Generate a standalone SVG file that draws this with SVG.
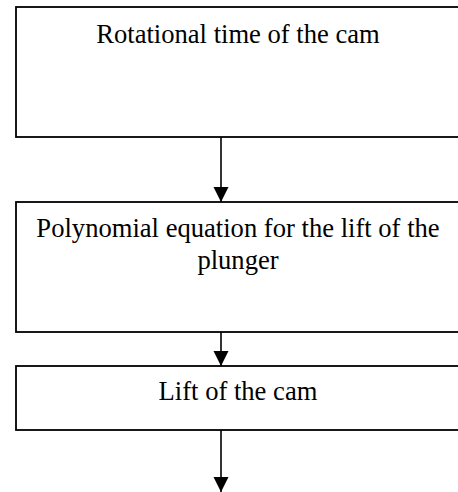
<svg xmlns="http://www.w3.org/2000/svg" width="458" height="492" viewBox="0 0 458 492">
<style>
.box{fill:#fff;stroke:#000;stroke-width:1.8}
.lbl{font-family:"Liberation Serif","Times New Roman",serif;font-size:26.6px;fill:#000;text-anchor:middle}
.conn{stroke:#000;stroke-width:1.6;fill:none}
</style>
<defs>
<marker id="ah" markerUnits="userSpaceOnUse" markerWidth="16" markerHeight="16" viewBox="0 0 16 16" refX="15" refY="8" orient="auto">
<path d="M0,0.5 L15,8 L0,15.5 Z" fill="#000"/>
</marker>
</defs>
<rect width="458" height="492" fill="#fff"/>
<g id="connectors">
<line class="conn" x1="221" y1="137" x2="221" y2="202" marker-end="url(#ah)"/>
<line class="conn" x1="221" y1="332" x2="221" y2="366" marker-end="url(#ah)"/>
<line class="conn" x1="221" y1="430" x2="221" y2="492" marker-end="url(#ah)"/>
</g>
<g id="n1">
<rect class="box" x="16" y="7" width="444" height="130"/>
<text class="lbl" x="238" y="43">Rotational time of the cam</text>
</g>
<g id="n2">
<rect class="box" x="16" y="202" width="444" height="130"/>
<text class="lbl" x="238" y="237">Polynomial equation for the lift of the</text>
<text class="lbl" x="238" y="269">plunger</text>
</g>
<g id="n3">
<rect class="box" x="16" y="366" width="444" height="64"/>
<text class="lbl" x="238" y="400">Lift of the cam</text>
</g>
</svg>
